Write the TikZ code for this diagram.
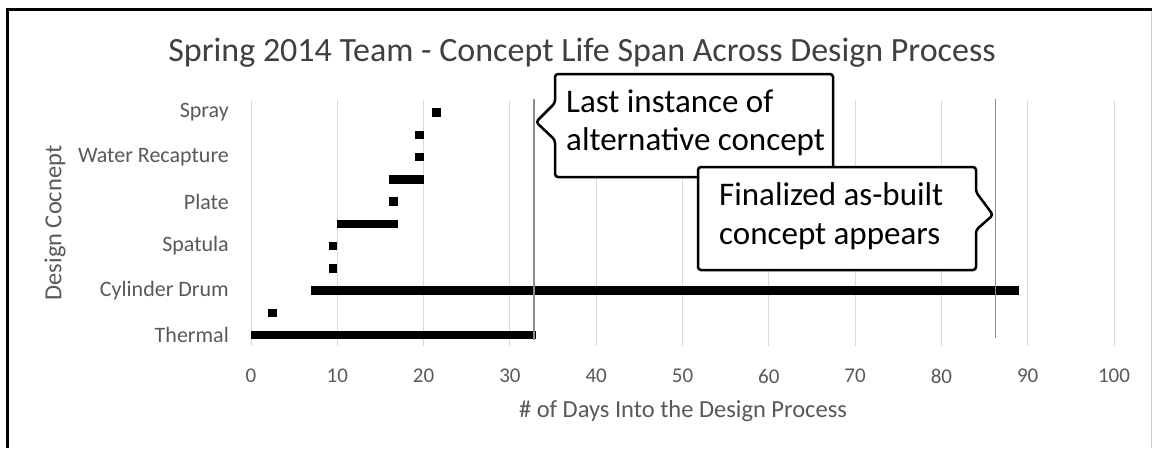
\documentclass[tikz,border=0pt]{standalone}
\usepackage{fontspec}
\setmainfont{Carlito}
\definecolor{gridgray}{HTML}{D9D9D9}
\definecolor{refgray}{HTML}{8C8C8C}
\definecolor{labelgray}{HTML}{595959}
\definecolor{titlegray}{HTML}{404040}
\tikzset{
  gridline/.style={draw=gridgray, line width=1pt},
  refline/.style={draw=refgray, line width=1.3pt},
  spanbar/.style={fill=black},
  ticklabel/.style={text=labelgray, font=\fontsize{21}{24}\selectfont, inner sep=0pt},
  catlabel/.style={text=labelgray, font=\fontsize{22}{26}\selectfont, inner sep=0pt, anchor=east},
  axistitle/.style={text=labelgray, font=\fontsize{24.5}{28}\selectfont, inner sep=0pt},
  calloutbox/.style={draw=black, fill=white, line width=2.5pt, rounded corners=3pt, line join=round},
  callouttext/.style={text=black, font=\fontsize{33}{40}\selectfont, inner sep=0pt, anchor=base west},
}
\newcommand{\rowy}[1]{112.5+22.25*#1}
\begin{document}
\begin{tikzpicture}[x=1pt, y=-1pt]
\useasboundingbox (0,0) rectangle (1152,448);
\fill[white] (0,0) rectangle (1152,448);

% chart frame
\draw[gray!40, line width=0.8pt] (1151,9.5) -- (1151,448);
\draw[black, line width=2.2pt] (7.5,448) -- (7.5,9.5) -- (1152,9.5);

% title
\node[text=titlegray, font=\fontsize{34}{40}\selectfont, inner sep=0pt, anchor=base] (title) at (582,61)
  {Spring 2014 Team - Concept Life Span Across Design Process};

% axis titles
\node[axistitle, rotate=90] (ytitle) at (55,223) {Design Cocnept};
\node[axistitle] (xtitle) at (683,411) {\# of Days Into the Design Process};

% category labels
\node[catlabel] (cSpray) at (229,{\rowy{0}}) {Spray};
\node[catlabel] (cWater) at (229,{\rowy{2}}) {Water Recapture};
\node[catlabel] (cPlate) at (229,{\rowy{4}}) {Plate};
\node[catlabel] (cSpat) at (229,{\rowy{6}}) {Spatula};
\node[catlabel] (cCyl) at (229,{\rowy{8}}) {Cylinder Drum};
\node[catlabel] (cTherm) at (229,{\rowy{10}}) {Thermal};

% plot area in days
\begin{scope}[xshift=251pt, x=8.63pt]
  \foreach \d in {0,10,...,100} {
    \draw[gridline] (\d,100) -- (\d,346);
    \node[ticklabel] (tick\d) at (\d,376) {\d};
  }
  % concept spans: row, start day, end day
  \foreach \r/\a/\b in {0/21/22, 1/19/20, 2/19/20, 3/16/20, 4/16/17, 5/10/17,
                        6/9/10, 7/9/10, 8/7/89, 9/2/3, 10/0/33} {
    \fill[spanbar] (\a,{\rowy{\r}-4.25}) rectangle (\b,{\rowy{\r}+4.25});
  }
  % milestone markers
  \coordinate (m1top) at (32.8,99);
  \coordinate (m1bot) at (32.8,340);
  \coordinate (m2top) at (86.3,99);
  \coordinate (m2bot) at (86.3,338);
  \draw[refline] (m1top) -- (m1bot);
  \draw[refline] (m2top) -- (m2bot);
\end{scope}

% callouts
\draw[calloutbox] (700,74) -- (555,74) -- (555,103) -- (536,122) -- (555,140)
  -- (555,177) -- (833,177) -- (833,74) -- cycle;
\node[callouttext] (note1a) at (566,112) {Last instance of};
\node[callouttext] (note1b) at (566,150) {alternative concept};

\draw[calloutbox] (800,167) -- (976,167) -- (976,192) -- (993,215) -- (976,230)
  -- (976,270) -- (698,270) -- (698,167) -- cycle;
\node[callouttext] (note2a) at (719,205) {Finalized as-built};
\node[callouttext] (note2b) at (719,244) {concept appears};
\end{tikzpicture}
\end{document}
